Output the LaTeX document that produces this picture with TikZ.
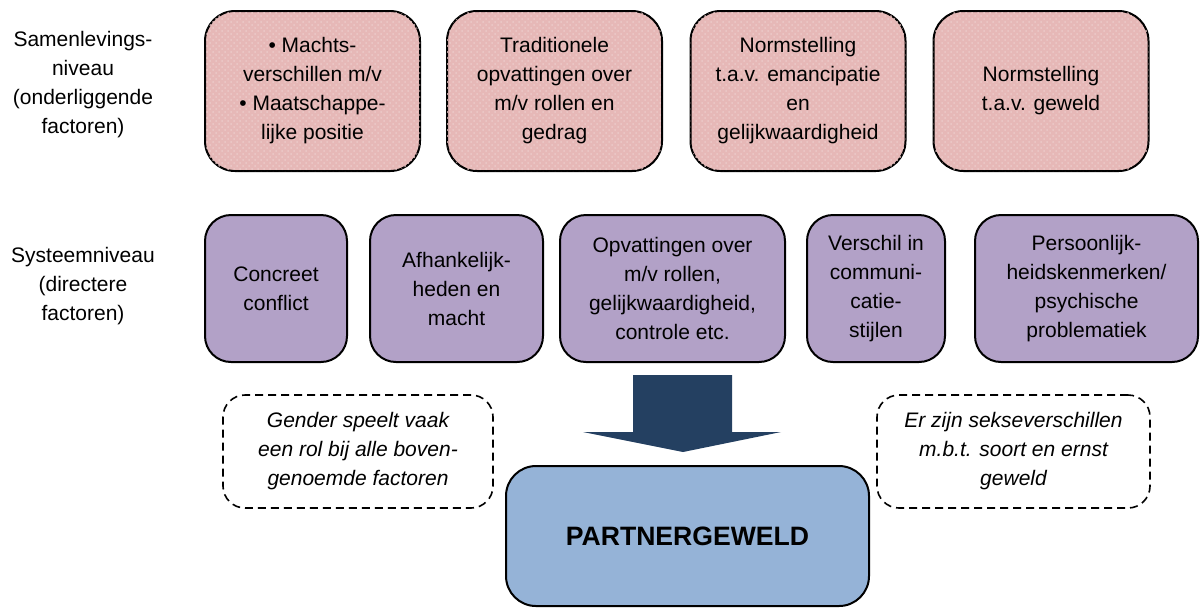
\documentclass[tikz,border=0pt]{standalone}
\usepackage{fontspec}
\setmainfont{Liberation Sans}
\usepackage{tikz}
\usetikzlibrary{patterns}

\definecolor{samenrood}{RGB}{230,184,183}
\definecolor{systeempaars}{RGB}{178,161,199}
\definecolor{pijlblauw}{RGB}{36,64,97}
\definecolor{geweldblauw}{RGB}{149,179,215}

\begin{document}
\begin{tikzpicture}[x=0.5pt,y=-0.5pt,
  every node/.style={font=\fontsize{10.5}{14.5}\selectfont, align=center, inner sep=0pt},
  samen/.style={draw, line width=1pt, fill=samenrood, rounded corners=15pt,
    postaction={pattern=crosshatch dots, pattern color=samenrood!75!white},
    minimum width=107.5pt, minimum height=80pt},
  systeem/.style={draw, line width=1pt, fill=systeempaars, rounded corners=13pt,
    minimum height=73.5pt},
  noot/.style={draw, dashed, dash pattern=on 4pt off 2.5pt, line width=0.8pt,
    rounded corners=11pt, minimum height=56.5pt, font=\fontsize{10.5}{14.5}\selectfont\itshape}]
\useasboundingbox (0,0) rectangle (1202,607);

% niveaus
\node (samenlabel) at (83,85) {Samenlevings-\\niveau\\(onderliggende\\factoren)};
\node (systeemlabel) at (83,286) {Systeemniveau\\(directere\\factoren)};

% onderliggende factoren
\node[samen] (macht) at (312.5,91) {\textbullet\ Machts-\\verschillen m/v\\\textbullet\ Maatschappe-\\lijke positie};
\node[samen] (tradities) at (554.5,91) {Traditionele\\opvattingen over\\m/v rollen en\\gedrag};
\node[samen] (emancipatie) at (798,91) {Normstelling\\t.a.v. emancipatie\\en\\gelijkwaardigheid};
\node[samen] (normgeweld) at (1041,91) {Normstelling\\t.a.v. geweld};

% directere factoren
\node[systeem, minimum width=71pt] (conflict) at (276,288.5) {Concreet\\conflict};
\node[systeem, minimum width=86.5pt] (afhankelijk) at (456.5,288.5) {Afhankelijk-\\heden en\\macht};
\node[systeem, minimum width=112.5pt] (opvattingen) at (672.5,288.5) {Opvattingen over\\m/v rollen,\\gelijkwaardigheid,\\controle etc.};
\node[systeem, minimum width=69pt] (communicatie) at (876,288.5) {Verschil in\\communi-\\catie-\\stijlen};
\node[systeem, minimum width=111.5pt] (persoonlijk) at (1086.5,288.5) {Persoonlijk-\\heidskenmerken/\\psychische\\problematiek};

% noten
\node[noot, minimum width=135pt] (gender) at (358,451.5) {Gender speelt vaak\\een rol bij alle boven-\\genoemde factoren};
\node[noot, minimum width=136.5pt] (sekse) at (1013.5,451.5) {Er zijn sekseverschillen\\m.b.t. soort en ernst\\geweld};

% resultaat
\node[draw, line width=1pt, fill=geweldblauw, rounded corners=15pt,
  minimum width=181.5pt, minimum height=70pt,
  font=\fontsize{13.3}{16}\selectfont\bfseries] (geweld) at (687.5,536) {PARTNERGEWELD};

% blokpijl
\fill[pijlblauw] (633,375) -- (732,375) -- (732,432) -- (781,432) -- (683,452)
  -- (583,432) -- (633,432) -- cycle;

\end{tikzpicture}
\end{document}
